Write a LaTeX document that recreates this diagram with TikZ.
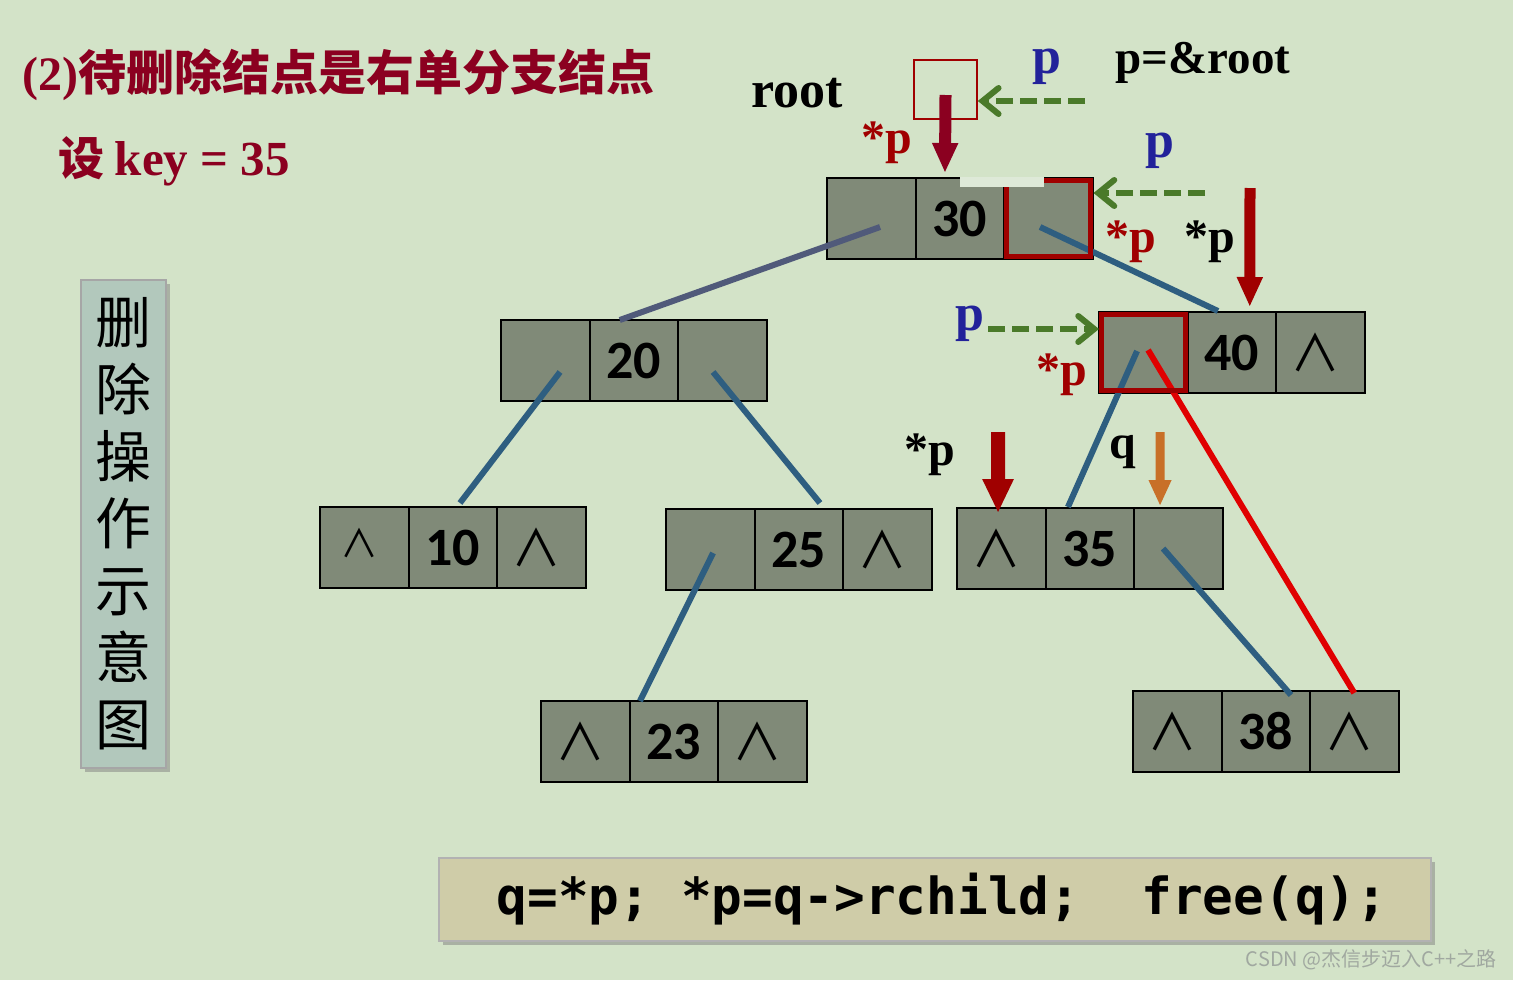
\documentclass[tikz,border=0pt]{standalone}
\usepackage{fontspec}
\setmainfont{Liberation Serif}
\newfontfamily\cjk{Noto Sans CJK SC}
\newfontfamily\numf{Carlito}
\newfontfamily\dv{DejaVu Sans}
\newfontfamily\codef{DejaVu Sans Mono}
\usetikzlibrary{arrows.meta,calc,shadows,positioning}
\definecolor{bg}{RGB}{211,227,200}
\definecolor{cellfill}{RGB}{128,138,120}
\definecolor{titlered}{RGB}{139,0,32}
\definecolor{ptrred}{RGB}{160,0,0}
\definecolor{pblue}{RGB}{34,34,154}
\definecolor{dgreen}{RGB}{74,122,42}
\definecolor{linkblue}{RGB}{46,94,128}
\definecolor{linkpurple}{RGB}{80,90,122}
\definecolor{brightred}{RGB}{224,0,0}
\definecolor{orangec}{RGB}{200,112,40}
\definecolor{vboxfill}{RGB}{178,200,188}
\definecolor{codefill}{RGB}{207,204,168}
\definecolor{stripc}{RGB}{222,233,216}
\definecolor{wmark}{RGB}{160,168,160}
\newcommand{\nul}{\kern-5pt ∧}
\tikzset{
  cell/.style={draw=black, line width=1pt, fill=cellfill, minimum width=44.25pt,
    minimum height=40.5pt, inner sep=0pt, outer sep=0pt,
    font=\numf\bfseries\fontsize{27}{27}\selectfont},
  nullcell/.style={cell, font=\cjk\fontsize{25}{25}\selectfont},
  smallnull/.style={cell, font=\cjk\fontsize{19}{19}\selectfont},
  link/.style={line width=3pt, draw=linkblue},
  redoutline/.style={draw=ptrred, line width=2.5pt, line join=miter},
  bigarrow/.style={line width=6pt, -{Triangle[width=12pt,length=15pt]}},
  greenarrow/.style={draw=dgreen, line width=3pt, dash pattern=on 8.5pt off 3.5pt,
    -{Straight Barb[length=8pt,width=13pt,line cap=round]}},
  lbl/.style={inner sep=0pt, anchor=base, font=\bfseries\fontsize{24}{24}\selectfont},
}
\begin{document}
\begin{tikzpicture}[x=0.5pt,y=-0.5pt]
\fill[bg] (0,0) rectangle (1513,980);
\useasboundingbox (0,0) rectangle (1513,980);

% side label and code box
\node[draw=gray!70, line width=0.6pt, fill=vboxfill, minimum width=42.5pt, minimum height=244pt,
  inner sep=0pt, align=center, drop shadow={shadow xshift=2pt, shadow yshift=-2pt, fill=gray, opacity=0.5},
  font=\cjk\fontsize{28}{33.5}\selectfont] (vlabel) at (123.5,524)
  {删\\除\\操\\作\\示\\意\\图};
\node[draw=gray!60, line width=0.6pt, fill=codefill, minimum width=496pt, minimum height=41.5pt,
  inner sep=0pt, drop shadow={shadow xshift=2pt, shadow yshift=-2pt, fill=gray, opacity=0.5},
  font=\codef\bfseries\fontsize{25.5}{25.5}\selectfont] (code) at (935,899.5)
  {\hspace*{7pt}q=*p;\ *p=q-{}>rchild;\ \ free(q);};

% title texts
\node[inner sep=0pt, anchor=base west, text=titlered] (title) at (22,90)
  {\fontsize{24}{24}\selectfont\bfseries (2)\cjk\fontsize{24}{24}\selectfont 待删除结点是右单分支结点};
\node[inner sep=0pt, anchor=base west, text=titlered] (key) at (58,175)
  {\cjk\bfseries\fontsize{23}{23}\selectfont 设\ \rmfamily\fontsize{24.5}{24.5}\selectfont key = 35};

% tree nodes
\node[cell] (n30l) at (871.25,218.5) {};
\node[cell, right=0pt of n30l] (n30m) {30};
\node[cell, right=0pt of n30m] (n30r) {};

\node[cell] (n20l) at (545.25,360.5) {};
\node[cell, right=0pt of n20l] (n20m) {20};
\node[cell, right=0pt of n20m] (n20r) {};

\node[cell] (n40l) at (1143.25,352.5) {};
\node[cell, right=0pt of n40l] (n40m) {40};
\node[nullcell, right=0pt of n40m] (n40r) {\nul};

\node[smallnull] (n10l) at (364.25,547.5) {\raisebox{5pt}{\nul}};
\node[cell, right=0pt of n10l] (n10m) {10};
\node[nullcell, right=0pt of n10m] (n10r) {\nul};

\node[cell] (n25l) at (710.25,549.5) {};
\node[cell, right=0pt of n25l] (n25m) {25};
\node[nullcell, right=0pt of n25m] (n25r) {\nul};

\node[nullcell] (n23l) at (585.25,741.5) {\nul};
\node[cell, right=0pt of n23l] (n23m) {23};
\node[nullcell, right=0pt of n23m] (n23r) {\nul};

\node[nullcell] (n35l) at (1001.25,548.5) {\nul};
\node[cell, right=0pt of n35l] (n35m) {35};
\node[cell, right=0pt of n35m] (n35r) {};

\node[nullcell] (n38l) at (1177.25,731.5) {\nul};
\node[cell, right=0pt of n38l] (n38m) {38};
\node[nullcell, right=0pt of n38m] (n38r) {\nul};

% light strip over the top of node 30
\fill[stripc] (960,177) rectangle (1044,187);

% links
\draw[link, draw=linkpurple] ([xshift=4.4pt,yshift=-4.25pt]n30l.center) -- ([xshift=-7pt]n20m.north);
\draw[link] ([xshift=-4.1pt,yshift=-4.25pt]n30r.center) -- ([xshift=-6.9pt,yshift=0.5pt]n40m.north);
\draw[link] ([xshift=7.4pt,yshift=-5.75pt]n20l.center) -- ([xshift=3.6pt,yshift=2pt]n10m.north);
\draw[link] ([xshift=-4.6pt,yshift=-5.75pt]n20r.center) -- ([xshift=10.6pt,yshift=3pt]n25m.north);
\draw[link] ([xshift=1.4pt,yshift=-1.75pt]n25l.center) -- ([xshift=-16.9pt]n23m.north);
\draw[link] ([xshift=-3.1pt,yshift=0.75pt]n40l.center) -- ([xshift=-10.9pt,yshift=0.5pt]n35m.north);
\draw[link] ([xshift=-7.6pt]n35r.center) -- ([xshift=12.6pt,yshift=-2pt]n38m.north);
\draw[link, draw=brightred] ([xshift=2.4pt,yshift=1.25pt]n40l.center) -- ([yshift=-1pt]n38r.north);

% red outlines
\draw[redoutline] ([xshift=-24.25pt,yshift=-1.25pt]n30r.north east) -- ([xshift=-1.25pt,yshift=-1.25pt]n30r.north east)
  -- ([xshift=-1.25pt,yshift=1.25pt]n30r.south east) -- ([xshift=1.25pt,yshift=1.25pt]n30r.south west)
  -- ([xshift=1.25pt,yshift=-4.5pt]n30r.north west);
\draw[redoutline] ([shift={(1.25pt,-1.25pt)}]n40l.north west) rectangle ([shift={(-1.25pt,1.25pt)}]n40l.south east);

% root box
\node[draw=ptrred, line width=0.8pt, minimum width=31.5pt, minimum height=29.5pt, inner sep=0pt] (rootbox) at (945.5,89.5) {};

% pointer arrows
\coordinate (a2s) at (1250,188);
\coordinate (a3s) at (998,432);
\coordinate (a4s) at (1160,432);
\draw[bigarrow, draw=titlered, fill=titlered] ([yshift=-2.75pt]rootbox.center) -- ([xshift=-7.4pt,yshift=2.5pt]n30m.north);
\draw[bigarrow, line width=5.5pt, draw=ptrred, fill=ptrred] (a2s) -- ([xshift=9pt,yshift=2.5pt]n40m.north);
\draw[line width=7pt, draw=ptrred, -{Triangle[width=14.5pt,length=17pt]}] (a3s) -- ([xshift=-1.6pt,yshift=-2.5pt]n35l.north);
\draw[line width=4.5pt, draw=orangec, -{Triangle[width=10.5pt,length=13pt]}] (a4s) -- ([xshift=-9.1pt,yshift=1pt]n35r.north);

\coordinate (g1s) at (1085,101);
\coordinate (g2s) at (1205,193);
\coordinate (g3s) at (988,329);
\draw[greenarrow] (g1s) -- ([yshift=-5.75pt]rootbox.east);
\draw[greenarrow] (g2s) -- ([yshift=-7.5pt,xshift=0.5pt]n30r.north east);
\draw[greenarrow] (g3s) -- ([yshift=11.75pt]n40l.west);

% labels
\node[lbl, font=\bfseries\fontsize{26}{26}\selectfont] (root) at (797,107) {root};
\node[lbl, font=\bfseries\fontsize{23.5}{23.5}\selectfont] (proot) at (1203,73) {p=\&root};
\node[lbl, text=pblue, font=\bfseries\fontsize{26}{26}\selectfont] (p1) at (1047,73) {p};
\node[lbl, text=ptrred] (sp1) at (887,153) {*p};
\node[lbl, text=pblue, font=\bfseries\fontsize{26}{26}\selectfont] (p2) at (1160,157) {p};
\node[lbl, text=ptrred] (sp2) at (1131,252) {*p};
\node[lbl] (sp3) at (1210,252) {*p};
\node[lbl, text=pblue, font=\bfseries\fontsize{26}{26}\selectfont] (p3) at (970,330) {p};
\node[lbl, text=ptrred] (sp4) at (1062,385) {*p};
\node[lbl] (sp5) at (930,465) {*p};
\node[lbl] (q) at (1123,458) {q};

\node[inner sep=0pt, anchor=east, text=wmark, font=\cjk\fontsize{10}{10}\selectfont] (wm) at (1497,960) {CSDN @杰信步迈入C++之路};
\end{tikzpicture}
\end{document}
